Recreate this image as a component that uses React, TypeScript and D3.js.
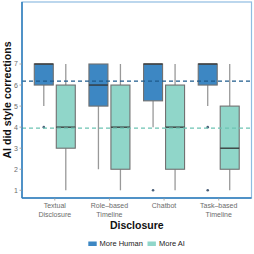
import React from "react";
import * as d3 from "d3";

const categories = ["Textual\nDisclosure", "Role–based\nTimeline", "Chatbot", "Task–based\nTimeline"];
const groups = ["More Human", "More AI"];
// [lower whisker, q1, median, q3, upper whisker]
const humanStats = [
  [5, 6, 7, 7, 7],
  [2, 5, 6, 7, 7],
  [4, 5.25, 7, 7, 7],
  [5, 6, 7, 7, 7],
];
const aiStats = [
  [1, 3, 4, 6, 7],
  [1, 2, 4, 6, 7],
  [1, 2, 4, 6, 7],
  [1, 2, 3, 5, 7],
];
const humanOutliers = [[4], [], [1], [4, 1]];
const aiOutliers = [[], [], [], []];
const means = [6.19, 3.95];
const yTicks = [1, 2, 3, 4, 5, 6, 7];

const colors = ["#3D87C3", "#90D6C9"];
const meanColors = ["#1E5B8C", "#6CC3B3"];

export default function App() {
  const W = 254, H = 254;
  const left = 22, right = 251.5, top = 2, bottom = 198;
  const x = d3.scaleBand<string>().domain(categories).range([left, right]).paddingOuter(0.1).paddingInner(0);
  const xc = (c: string) => (x(c) as number) + x.bandwidth() / 2;
  const y = d3.scaleLinear().domain([1, 7]).range([190.3, 64]);
  const dodge = 11;
  const bw = 19;
  const font = "'Liberation Sans', Arial, sans-serif";

  const renderBox = (stats: number[], cx: number, fill: string, key: string) => {
    const [lo, q1, med, q3, hi] = stats;
    return (
      <g key={key}>
        {hi > q3 && <line x1={cx} x2={cx} y1={y(q3)} y2={y(hi)} stroke="#999" strokeWidth={1.3} />}
        {lo < q1 && <line x1={cx} x2={cx} y1={y(q1)} y2={y(lo)} stroke="#999" strokeWidth={1.3} />}
        <rect x={cx - bw / 2} y={y(q3)} width={bw} height={y(q1) - y(q3)} fill={fill} stroke="#707070" strokeWidth={1.1} />
        <line x1={cx - bw / 2} x2={cx + bw / 2} y1={y(med)} y2={y(med)} stroke="#333" strokeWidth={1.3} />
      </g>
    );
  };

  return (
    <div style={{ position: "fixed", left: 0, top: 0 }}>
      <svg width={W} height={H} style={{ display: "block", background: "#fff" }} fontFamily={font}>
        {/* panel */}
        <rect x={left} y={top} width={right - left} height={bottom - top} fill="#fff" stroke="#8FBCE2" strokeWidth={1.2} />
        {/* boxes */}
        {categories.map((c, i) => (
          <g key={c}>
            {renderBox(humanStats[i], xc(c) - dodge, colors[0], "h" + i)}
            {renderBox(aiStats[i], xc(c) + dodge, colors[1], "a" + i)}
            {humanOutliers[i].map((v, j) => (
              <circle key={"ho" + j} cx={xc(c) - dodge} cy={y(v)} r={1.3} fill="#4A5F78" />
            ))}
            {aiOutliers[i].map((v, j) => (
              <circle key={"ao" + j} cx={xc(c) + dodge} cy={y(v)} r={1.3} fill="#4A5F78" />
            ))}
          </g>
        ))}
        {/* mean lines */}
        {means.map((m, i) => (
          <line key={"m" + i} x1={left} x2={right} y1={y(m)} y2={y(m)} stroke={meanColors[i]} strokeWidth={1.3} strokeDasharray="4,3" />
        ))}
        {/* axis lines */}
        <line x1={left} x2={left} y1={top} y2={bottom} stroke="#2C7BBA" strokeWidth={1.5} />
        <line x1={left} x2={right} y1={bottom} y2={bottom} stroke="#2C7BBA" strokeWidth={1.5} />
        {/* y ticks */}
        {yTicks.map((t) => (
          <g key={"yt" + t}>
            <line x1={left - 2.5} x2={left} y1={y(t)} y2={y(t)} stroke="#999" strokeWidth={0.8} />
            <text x={left - 4} y={y(t)} dy="0.35em" textAnchor="end" fontSize={7} fill="#6b6b6b">{t}</text>
          </g>
        ))}
        {/* x ticks */}
        {categories.map((c) => (
          <g key={"xt" + c}>
            <line x1={xc(c)} x2={xc(c)} y1={bottom} y2={bottom + 2.5} stroke="#999" strokeWidth={0.8} />
            {c.split("\n").map((l, k) => (
              <text key={k} x={xc(c)} y={208 + k * 8.5} textAnchor="middle" fontSize={7} fill="#6b6b6b">{l}</text>
            ))}
          </g>
        ))}
        {/* titles */}
        <text x={(left + right) / 2} y={228.5} textAnchor="middle" fontSize={10.5} fontWeight="bold" fill="#111">Disclosure</text>
        <text transform={`translate(10.5,${(top + bottom) / 2}) rotate(-90)`} textAnchor="middle" fontSize={10.6} fontWeight="bold" fill="#111">AI did style corrections</text>
        {/* legend */}
        <rect x={88.3} y={241.5} width={8.4} height={4.5} fill={colors[0]} />
        <text x={99.5} y={243.7} dy="0.35em" fontSize={7.5} fill="#222">{groups[0]}</text>
        <rect x={147.5} y={241.5} width={8.4} height={4.5} fill={colors[1]} />
        <text x={159} y={243.7} dy="0.35em" fontSize={7.5} fill="#222">{groups[1]}</text>
      </svg>
    </div>
  );
}
